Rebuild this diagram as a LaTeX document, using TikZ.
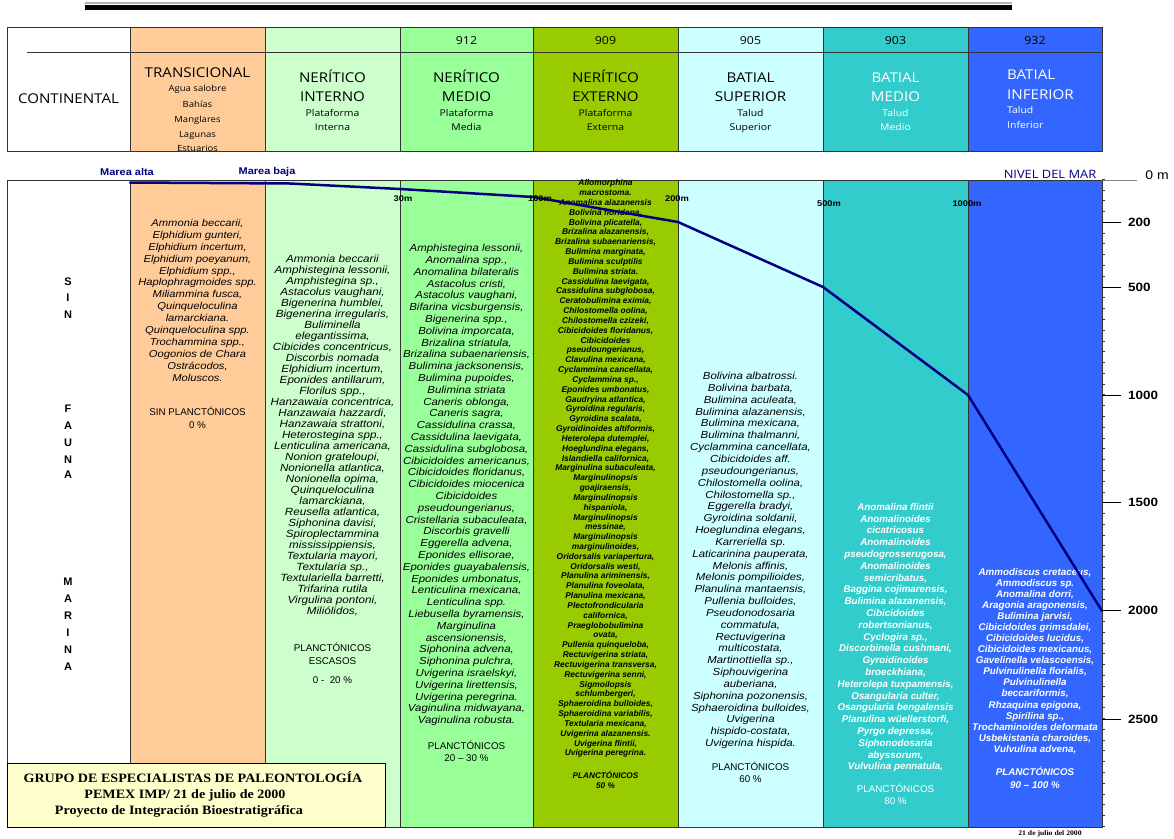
\documentclass[tikz,border=0pt]{standalone}
\usepackage{fontspec}
\setmainfont{Liberation Sans}
\newfontfamily\hdrfont[FakeStretch=1.12]{Open Sans}
\newfontfamily\lstfont[FakeStretch=1.12]{Liberation Sans}
\newfontfamily\tmsfont[FakeStretch=1.1]{Liberation Serif}
\definecolor{ctrans}{HTML}{FFCC99}
\definecolor{cnint}{HTML}{CCFFCC}
\definecolor{cnmed}{HTML}{99FF99}
\definecolor{cnext}{HTML}{99CC00}
\definecolor{cbsup}{HTML}{CCFFFF}
\definecolor{cbmed}{HTML}{33CCCC}
\definecolor{cbinf}{HTML}{3366FF}
\definecolor{navy}{HTML}{000080}
\definecolor{cream}{HTML}{FFFFCC}
\definecolor{edge}{HTML}{333333}
\tikzset{
  cell/.style={draw=edge, line width=0.9pt},
  hcap/.style={font=\hdrfont\fontsize{13.5}{15}\selectfont, inner sep=0pt, anchor=base},
  hsub/.style={font=\hdrfont\fontsize{9.3}{11}\selectfont, inner sep=0pt, anchor=base},
  hsmall/.style={font=\hdrfont\fontsize{8.5}{10}\selectfont, inner sep=0pt, anchor=base},
  hnum/.style={font=\hdrfont\fontsize{11}{13}\selectfont, inner sep=0pt, anchor=base},
  lst/.style={anchor=north, align=center, inner sep=0pt},
  pl/.style={font=\fontsize{9.8}{11}\selectfont, inner sep=0pt, anchor=base},
  depth/.style={font=\lstfont\bfseries\fontsize{8.3}{9}\selectfont, inner sep=0pt},
  tide/.style={font=\lstfont\bfseries\fontsize{9.8}{11}\selectfont, text=navy, inner sep=0pt},
  scalelab/.style={font=\lstfont\bfseries\fontsize{12}{13}\selectfont, inner sep=0pt, anchor=west},
  sfl/.style={font=\bfseries\fontsize{11}{12}\selectfont, inner sep=0pt},
  grp/.style={font=\tmsfont\bfseries\fontsize{12.8}{14}\selectfont, inner sep=0pt},
  profile/.style={navy, line width=2.5pt, line join=round, line cap=round}
}
\begin{document}
\begin{tikzpicture}[x=1pt,y=-1pt]
\useasboundingbox (0,0) rectangle (1174,838);
\fill[white] (0,0) rectangle (1174,838);
% top rule
\draw[gray!60, line width=1.4pt] (85,3) -- (1012,3);
\draw[black, line width=4.8pt] (85,7.5) -- (1012,7.5);
% header cells
\draw[cell] (7,27) rectangle (130,151);
\draw[cell] (27,52) -- (130,52);
\foreach \a/\b/\c in {130/265/ctrans, 265/400/cnint, 400/533/cnmed, 533/678/cnext, 678/823/cbsup, 823/968/cbmed, 968/1102/cbinf}{
  \filldraw[fill=\c, cell] (\a,27) rectangle (\b,151);
  \draw[cell] (\a,52) -- (\b,52);
}
% lower table
\draw[cell, fill=white] (7,180) rectangle (130,827);
\foreach \a/\b/\c in {130/265/ctrans, 265/400/cnint, 400/533/cnmed, 533/678/cnext, 678/823/cbsup, 823/968/cbmed, 968/1102/cbinf}{
  \filldraw[fill=\c, cell] (\a,180) rectangle (\b,827);
}
% minor ticks on the depth axis
\foreach \m in {0,50,...,3000}{
  \draw[edge, line width=0.5pt] (1102,{179+0.2157*\m}) -- (1105,{179+0.2157*\m});
}
% header numbers
\node[hnum] (n912) at (466.5,44) {912};
\node[hnum] (n909) at (605.5,44) {909};
\node[hnum] (n905) at (750.5,44) {905};
\node[hnum] (n903) at (895.5,44) {903};
\node[hnum] (n932) at (1035,44) {932};
% header texts
\node[hcap] (hcont) at (68.5,103) {CONTINENTAL};
\node[hcap] (htr) at (197.5,77) {TRANSICIONAL};
\node[hsmall] (htr1) at (197.5,91) {Agua salobre};
\node[hsmall] (htr2) at (197.5,107) {Bahías};
\node[hsmall] (htr3) at (197.5,122) {Manglares};
\node[hsmall] (htr4) at (197.5,137) {Lagunas};
\node[hsmall] (htr5) at (197.5,151.5) {Estuarios};
\node[hcap] (hni1) at (332.5,82) {NERÍTICO};
\node[hcap] (hni2) at (332.5,101) {INTERNO};
\node[hsub] (hni3) at (332.5,116.5) {Plataforma};
\node[hsub] (hni4) at (332.5,130.5) {Interna};
\node[hcap] (hnm1) at (466.5,82) {NERÍTICO};
\node[hcap] (hnm2) at (466.5,101) {MEDIO};
\node[hsub] (hnm3) at (466.5,116.5) {Plataforma};
\node[hsub] (hnm4) at (466.5,130.5) {Media};
\node[hcap] (hne1) at (605.5,82) {NERÍTICO};
\node[hcap] (hne2) at (605.5,101) {EXTERNO};
\node[hsub] (hne3) at (605.5,116.5) {Plataforma};
\node[hsub] (hne4) at (605.5,130.5) {Externa};
\node[hcap] (hbs1) at (750.5,82) {BATIAL};
\node[hcap] (hbs2) at (750.5,101) {SUPERIOR};
\node[hsub] (hbs3) at (750.5,116.5) {Talud};
\node[hsub] (hbs4) at (750.5,130.5) {Superior};
\node[hcap, text=white] (hbm1) at (895.5,82) {BATIAL};
\node[hcap, text=white] (hbm2) at (895.5,101) {MEDIO};
\node[hsub, text=white] (hbm3) at (895.5,116.5) {Talud};
\node[hsub, text=white] (hbm4) at (895.5,130.5) {Medio};
\node[hcap, text=white, anchor=base west] (hbi1) at (1007,79) {BATIAL};
\node[hcap, text=white, anchor=base west] (hbi2) at (1007,99) {INFERIOR};
\node[hsub, text=white, anchor=base west] (hbi3) at (1007,113.5) {Talud};
\node[hsub, text=white, anchor=base west] (hbi4) at (1007,128.5) {Inferior};
% SIN FAUNA MARINA
\foreach \l/\y [count=\i] in {S/282,I/298,N/315,F/409,A/426,U/443,N/460,A/475,M/582,A/599,R/616,I/633,N/650,A/667}{
  \node[sfl] (sf\i) at (68,\y) {\l};
}
% lists
\node[lst, font={\lstfont\fontsize{10}{11.9}\selectfont\itshape}] (ltr) at (197.5,219) {Ammonia beccarii,\\Elphidium gunteri,\\Elphidium incertum,\\Elphidium poeyanum,\\Elphidium spp.,\\Haplophragmoides spp.\\Miliammina fusca,\\Quinqueloculina\\lamarckiana.\\Quinqueloculina spp.\\Trochammina spp.,\\Oogonios de Chara\\Ostrácodos,\\Moluscos.};
\node[pl] (ptr1) at (197.5,415.5) {SIN PLANCTÓNICOS};
\node[pl] (ptr2) at (197.5,428.5) {0 \%};

\node[lst, font={\lstfont\fontsize{10.4}{11}\selectfont\itshape}] (lni) at (332.5,255) {Ammonia beccarii\\Amphistegina lessonii,\\Amphistegina sp.,\\Astacolus vaughani,\\Bigenerina humblei,\\Bigenerina irregularis,\\Buliminella\\elegantissima,\\Cibicides concentricus,\\Discorbis nomada\\Elphidium incertum,\\Eponides antillarum,\\Florilus spp.,\\Hanzawaia concentrica,\\Hanzawaia hazzardi,\\Hanzawaia strattoni,\\Heterostegina spp.,\\Lenticulina americana,\\Nonion grateloupi,\\Nonionella atlantica,\\Nonionella opima,\\Quinqueloculina\\lamarckiana,\\Reusella atlantica,\\Siphonina davisi,\\Spiroplectammina\\mississippiensis,\\Textularia mayori,\\Textularia sp.,\\Textulariella barretti,\\Trifarina rutila\\Virgulina pontoni,\\Miliólidos,};
\node[pl] (pni1) at (332.5,651.5) {PLANCTÓNICOS};
\node[pl] (pni2) at (332.5,664.5) {ESCASOS};
\node[pl] (pni3) at (332.5,683.5) {0 -\ \ 20 \%};

\node[lst, font={\lstfont\fontsize{10.2}{11.8}\selectfont\itshape}] (lnm) at (466.5,244) {Amphistegina lessonii,\\Anomalina spp.,\\Anomalina bilateralis\\Astacolus cristi,\\Astacolus vaughani,\\Bifarina vicsburgensis,\\Bigenerina spp.,\\Bolivina imporcata,\\Brizalina striatula,\\Brizalina subaenariensis,\\Bulimina jacksonensis,\\Bulimina pupoides,\\Bulimina striata\\Caneris oblonga,\\Caneris sagra,\\Cassidulina crassa,\\Cassidulina laevigata,\\Cassidulina subglobosa,\\Cibicidoides americanus,\\Cibicidoides floridanus,\\Cibicidoides miocenica\\Cibicidoides\\pseudoungerianus,\\Cristellaria subaculeata,\\Discorbis gravelli\\Eggerella advena,\\Eponides ellisorae,\\Eponides guayabalensis,\\Eponides umbonatus,\\Lenticulina mexicana,\\Lenticulina spp.\\Liebusella byramensis,\\Marginulina\\ascensionensis,\\Siphonina advena,\\Siphonina pulchra,\\Uvigerina israelskyi,\\Uvigerina lirettensis,\\Uvigerina peregrina.\\Vaginulina midwayana,\\Vaginulina robusta.};
\node[pl] (pnm1) at (466.5,749.5) {PLANCTÓNICOS};
\node[pl] (pnm2) at (466.5,761.5) {20 -- 30 \%};

\node[lst, font={\fontsize{8.4}{9.83}\selectfont\bfseries\itshape}] (lne) at (605.5,179.5) {Allomorphina\\macrostoma.\\Anomalina alazanensis\\Bolivina floridana,\\Bolivina plicatella,\\Brizalina alazanensis,\\Brizalina subaenariensis,\\Bulimina marginata,\\Bulimina sculptilis\\Bulimina striata.\\Cassidulina laevigata,\\Cassidulina subglobosa,\\Ceratobulimina eximia,\\Chilostomella oolina,\\Chilostomella czizeki,\\Cibicidoides floridanus,\\Cibicidoides\\pseudoungerianus,\\Clavulina mexicana,\\Cyclammina cancellata,\\Cyclammina sp.,\\Eponides umbonatus,\\Gaudryina atlantica,\\Gyroidina regularis,\\Gyroidina scalata,\\Gyroidinoides altiformis,\\Heterolepa dutemplei,\\Hoeglundina elegans,\\Islandiella californica,\\Marginulina subaculeata,\\Marginulinopsis\\goajiraensis,\\Marginulinopsis\\hispaniola,\\Marginulinopsis\\messinae,\\Marginulinopsis\\marginulinoides,\\Oridorsalis variapertura,\\Oridorsalis westi,\\Planulina ariminensis,\\Planulina foveolata,\\Planulina mexicana,\\Plectofrondicularia\\californica,\\Praeglobobulimina\\ovata,\\Pullenia quinqueloba,\\Rectuvigerina striata,\\Rectuvigerina transversa,\\Rectuvigerina senni,\\Sigmoilopsis\\schlumbergeri,\\Sphaeroidina bulloides,\\Sphaeroidina variabilis,\\Textularia mexicana,\\Uvigerina alazanensis.\\Uvigerina flintii,\\Uvigerina peregrina.};
\node[pl, font={\fontsize{8.2}{9}\selectfont\bfseries\itshape}] (pne1) at (605.5,778) {PLANCTÓNICOS};
\node[pl, font={\fontsize{8.2}{9}\selectfont\bfseries\itshape}] (pne2) at (605.5,788) {50 \%};

\node[lst, font={\lstfont\fontsize{10.2}{11.84}\selectfont\itshape}] (lbs) at (750.5,372) {Bolivina albatrossi.\\Bolivina barbata,\\Bulimina aculeata,\\Bulimina alazanensis,\\Bulimina mexicana,\\Bulimina thalmanni,\\Cyclammina cancellata,\\Cibicidoides aff.\\pseudoungerianus,\\Chilostomella oolina,\\Chilostomella sp.,\\Eggerella bradyi,\\Gyroidina soldanii,\\Hoeglundina elegans,\\Karreriella sp.\\Laticarinina pauperata,\\Melonis affinis,\\Melonis pompilioides,\\Planulina mantaensis,\\Pullenia bulloides,\\Pseudonodosaria\\commatula,\\Rectuvigerina\\multicostata,\\Martinottiella sp.,\\Siphouvigerina\\auberiana,\\Siphonina pozonensis,\\Sphaeroidina bulloides,\\Uvigerina\\hispido-costata,\\Uvigerina hispida.};
\node[pl] (pbs1) at (750.5,770.5) {PLANCTÓNICOS};
\node[pl] (pbs2) at (750.5,782.5) {60 \%};

\node[lst, text=white, font={\fontsize{9.8}{11.8}\selectfont\bfseries\itshape}] (lbm) at (895.5,503) {Anomalina flintii\\Anomalinoides\\cicatricosus\\Anomalinoides\\pseudogrosserugosa,\\Anomalinoides\\semicribatus,\\Baggina cojimarensis,\\Bulimina alazanensis,\\Cibicidoides\\robertsonianus,\\Cyclogira sp.,\\Discorbinella cushmani,\\Gyroidinoides\\broeckhiana,\\Heterolepa tuxpamensis,\\Osangularia culter,\\Osangularia bengalensis\\Planulina wüellerstorfi,\\Pyrgo depressa,\\Siphonodosaria\\abyssorum,\\Vulvulina pennatula,};
\node[pl, text=white] (pbm1) at (895.5,792.5) {PLANCTÓNICOS};
\node[pl, text=white] (pbm2) at (895.5,804.5) {80 \%};

\node[lst, text=white, font={\fontsize{9.8}{11.06}\selectfont\bfseries\itshape}] (lbi) at (1035,568) {Ammodiscus cretaceus,\\Ammodiscus sp.\\Anomalina dorri,\\Aragonia aragonensis,\\Bulimina jarvisi,\\Cibicidoides grimsdalei,\\Cibicidoides lucidus,\\Cibicidoides mexicanus,\\Gavelinella velascoensis,\\Pulvinulinella florialis,\\Pulvinulinella\\beccariformis,\\Rhzaquina epigona,\\Spirilina sp.,\\Trochaminoides deformata\\Usbekistania charoides,\\Vulvulina advena,};
\node[pl, text=white, font={\fontsize{9.8}{11}\selectfont\bfseries\itshape}] (pbi1) at (1035,775.5) {PLANCTÓNICOS};
\node[pl, text=white, font={\fontsize{9.8}{11}\selectfont\bfseries\itshape}] (pbi2) at (1035,788.5) {90 -- 100 \%};

% sea-floor profile
\coordinate (p0) at (130,182.5);
\coordinate (p1) at (290,183.5);
\coordinate (p2) at (400,189);
\coordinate (p3) at (533,197);
\coordinate (p4) at (678,222);
\coordinate (p5) at (823,287);
\coordinate (p6) at (968,395);
\coordinate (p7) at (1102,611);
\draw[profile] (p0) -- (p1) -- (p2) -- (p3) -- (p4) -- (p5) -- (p6) -- (p7);
% tide labels
\node[tide] (malta) at (127,172) {Marea alta};
\node[tide] (mbaja) at (267,172) {Marea baja};
\node[font=\hdrfont\fontsize{11.5}{13}\selectfont, text=navy, inner sep=0pt] (nivel) at (1050,174) {NIVEL DEL MAR};
% depth labels
\node[depth] (d30) at (403,199) {30m};
\node[depth] (d100) at (540,199) {100m};
\node[depth] (d200) at (677,199) {200m};
\node[depth] (d500) at (829,204) {500m};
\node[depth] (d1000) at (967,204) {1000m};
% scale
\coordinate (z0) at (1102,180);
\coordinate (z1) at (1137,180);
\draw[gray, line width=1pt] (z0) -- (z1);
\node[font=\lstfont\fontsize{12.5}{14}\selectfont, inner sep=0pt] (zero) at (1157,175) {0 m};
\foreach \d/\y in {200/222, 500/287, 1000/395, 1500/502, 2000/610, 2500/719}{
  \coordinate (ta\d) at (1102,\y);
  \coordinate (tb\d) at (1121,\y);
  \draw[black, line width=1pt] (ta\d) -- (tb\d);
  \node[scalelab] (s\d) at (1128,\y) {\d};
}
% bottom-left box
\filldraw[fill=cream, draw=black, line width=0.9pt] (7,763) rectangle (385,827);
\node[grp] (g1) at (193,777) {GRUPO DE ESPECIALISTAS DE PALEONTOLOGÍA};
\node[grp] (g2) at (185,795) {PEMEX IMP/ 21 de julio de 2000};
\node[grp] (g3) at (179,811) {Proyecto de Integración Bioestratigráfica};
\node[font=\tmsfont\bfseries\fontsize{7}{8}\selectfont, inner sep=0pt] (fecha) at (1050,833.5) {21 de julio del 2000};
\end{tikzpicture}
\end{document}
